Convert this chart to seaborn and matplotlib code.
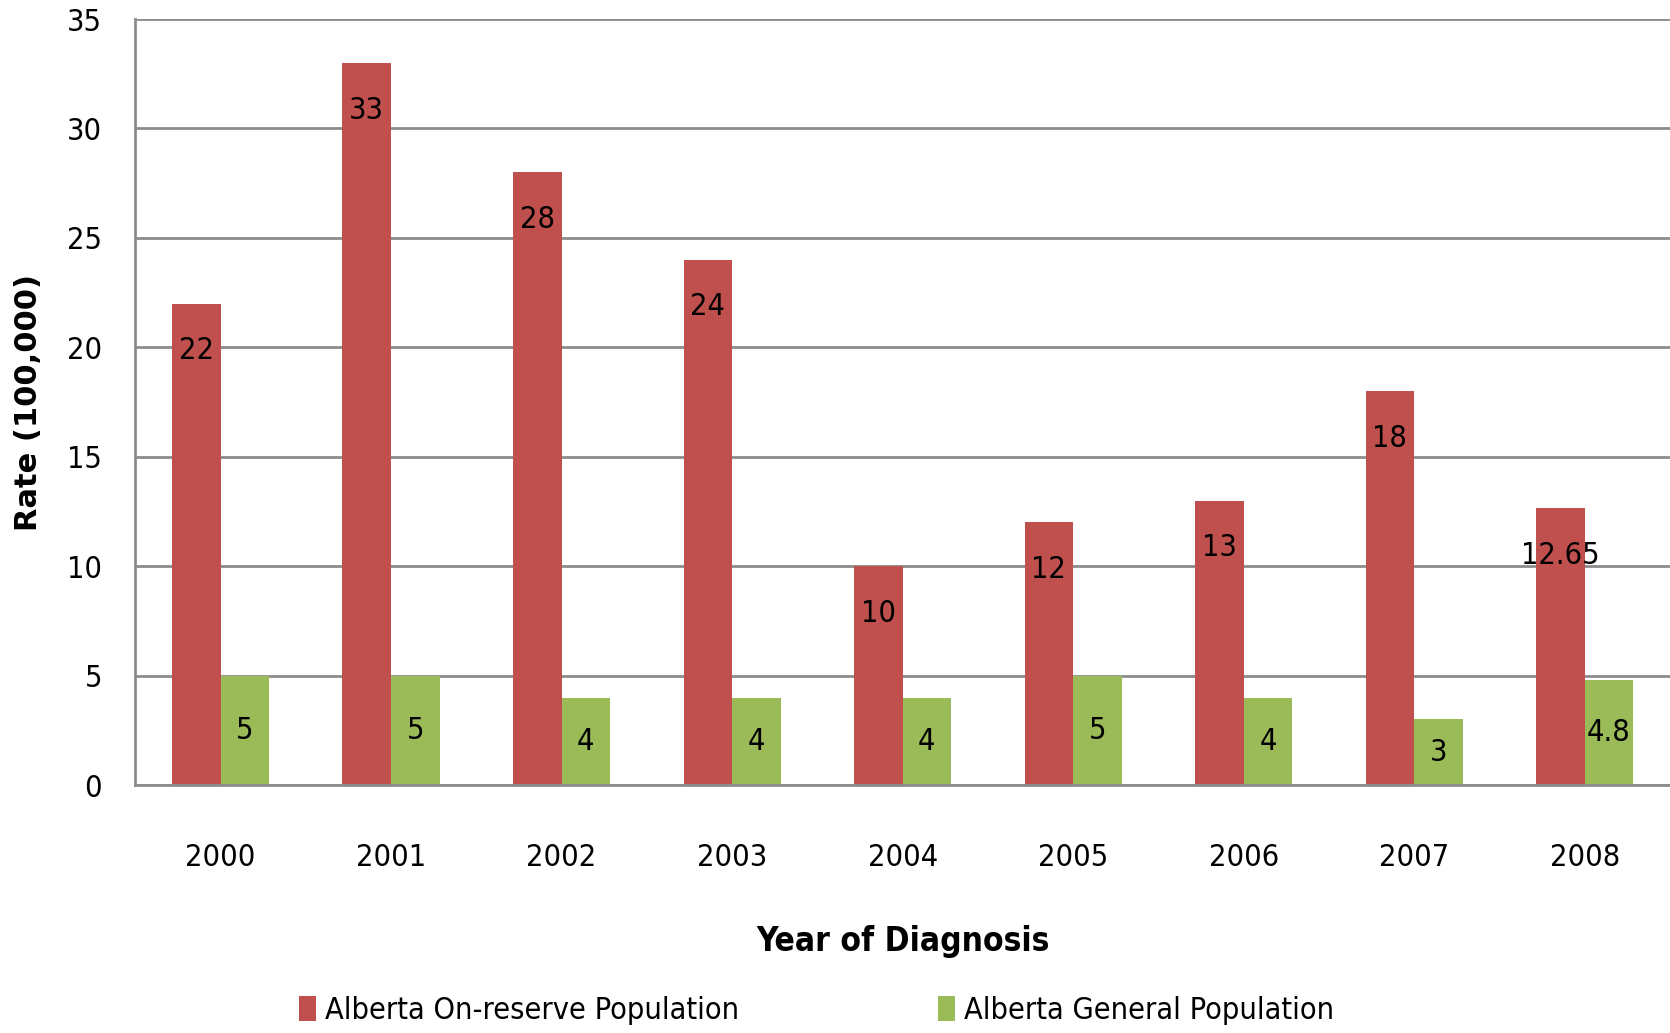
import pandas as pd
import numpy as np
import matplotlib.pyplot as plt
import seaborn as sns

years = ['2000', '2001', '2002', '2003', '2004', '2005', '2006', '2007', '2008']
on_reserve = [22, 33, 28, 24, 10, 12, 13, 18, 12.65]
general = [5, 5, 4, 4, 4, 5, 4, 3, 4.8]
series_names = ['Alberta On-reserve Population', 'Alberta General Population']
on_reserve_labels = ['22', '33', '28', '24', '10', '12', '13', '18', '12.65']
general_labels = ['5', '5', '4', '4', '4', '5', '4', '3', '4.8']

df = pd.DataFrame({
    'year': years * 2,
    'rate': on_reserve + general,
    'series': [series_names[0]] * len(years) + [series_names[1]] * len(years),
})

sns.set_style('white')
plt.rcParams['font.family'] = ['DejaVu Sans']
plt.rcParams['font.stretch'] = 'condensed'
plt.rcParams['text.color'] = 'black'
plt.rcParams['xtick.labelcolor'] = 'black'
plt.rcParams['ytick.labelcolor'] = 'black'
plt.rcParams['axes.labelcolor'] = 'black'

fig = plt.figure(figsize=(16.7, 10.33), dpi=100)
ax = fig.add_axes([0.081, 0.24, 0.919, 0.7416])

sns.barplot(data=df, x='year', y='rate', hue='series',
            palette=['#C0504D', '#9BBB59'], width=0.57, gap=0,
            saturation=1, linewidth=0, ax=ax, legend=True)

#数据标签
red_bars, green_bars = ax.containers[0], ax.containers[1]
for bar, lab in zip(red_bars, on_reserve_labels):
    ax.annotate(lab, (bar.get_x() + bar.get_width() / 2, bar.get_height()),
                xytext=(0, -34), textcoords='offset points',
                ha='center', va='center', fontsize=22)
ax.bar_label(green_bars, labels=general_labels, label_type='center', fontsize=22)

ax.set_ylim(0, 35)
ax.set_xlim(-0.5, 8.5)
ax.set_yticks(np.arange(0, 36, 5))
ax.yaxis.grid(True, color='#8c8c8c', linewidth=2)
ax.set_axisbelow(True)
for s in ['top', 'right']:
    ax.spines[s].set_visible(False)
ax.spines['left'].set_color('#8c8c8c')
ax.spines['left'].set_linewidth(2)
ax.spines['bottom'].set_color('#8c8c8c')
ax.spines['bottom'].set_linewidth(2)
ax.tick_params(axis='y', length=10, width=2, color='#8c8c8c', labelsize=22, pad=14)
ax.tick_params(axis='x', length=0, labelsize=22, pad=42)

ax.set_ylabel('Rate (100,000)', fontsize=22, fontweight='bold', fontstretch='normal')
ax.yaxis.set_label_coords(-0.06, 0.5)
ax.set_xlabel('Year of Diagnosis', fontsize=24, fontweight='bold', labelpad=38)

ax.legend(loc='center', bbox_to_anchor=(0.444, -0.294), ncol=2,
          frameon=False, fontsize=22, handlelength=0.55, handleheight=0.9,
          handletextpad=0.3, columnspacing=6.5)

plt.savefig('out.png', dpi=100)
plt.close()
